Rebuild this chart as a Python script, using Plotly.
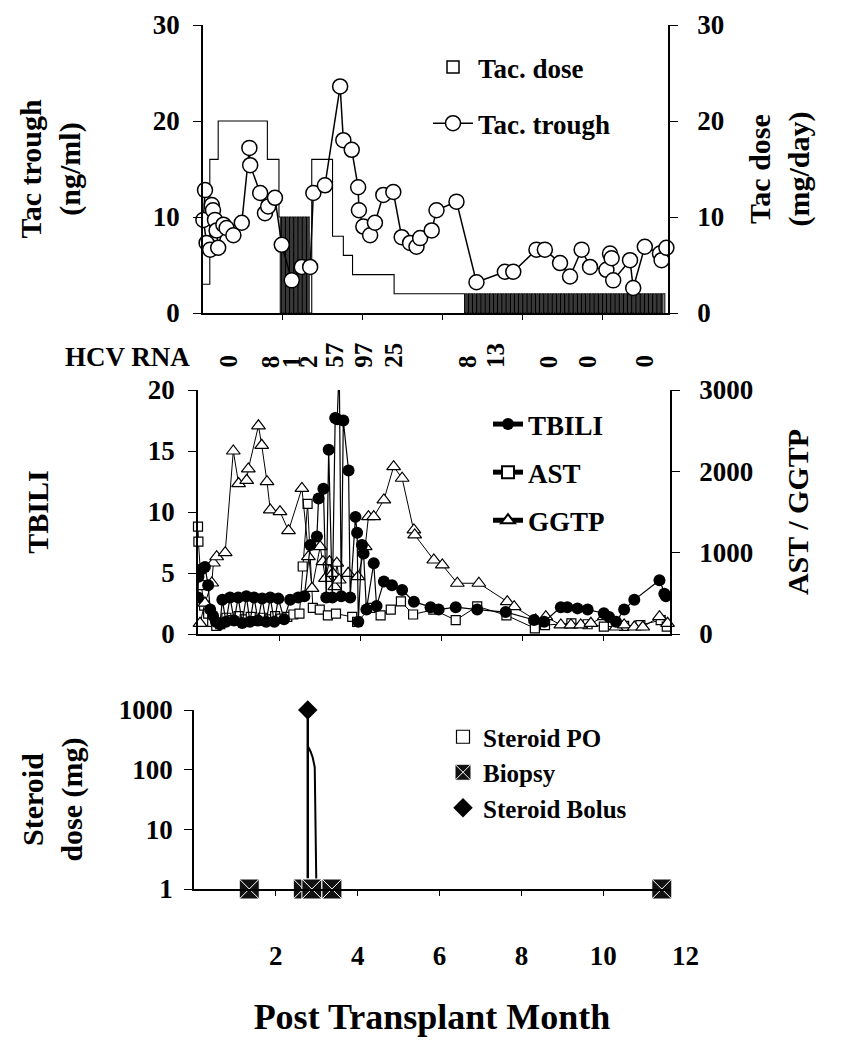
import plotly.graph_objects as go

# ---------------- data ----------------
# Top panel: tacrolimus trough (ng/ml) by post-transplant month
trough_month = [0.05, 0.01, 0.09, 0.18, 0.22, 0.25, 0.30, 0.34, 0.38, 0.51, 0.59, 0.76, 0.97, 1.16, 1.18,
                1.43, 1.55, 1.63, 1.80, 1.97, 2.22, 2.47, 2.68, 2.76, 3.05, 3.43, 3.51, 3.72, 3.88, 3.90,
                4.01, 4.18, 4.30, 4.51, 4.76, 4.97, 5.18, 5.34, 5.43, 5.72, 5.84, 6.34, 6.84, 7.55, 7.76,
                8.34, 8.55, 8.93, 9.18, 9.47, 9.68, 10.09, 10.18, 10.22, 10.26, 10.68, 10.76, 11.05, 11.43,
                11.47, 11.59]
trough_ng = [12.8, 9.7, 7.3, 6.6, 11.25, 10.7, 9.7, 8.6, 6.8, 9.2, 8.85, 8.1, 9.4, 17.2, 15.4,
             12.5, 10.4, 11.1, 12.0, 7.1, 3.4, 4.8, 4.8, 12.5, 13.3, 23.6, 18.0, 17.0, 13.1, 10.7,
             9.0, 8.1, 9.4, 12.3, 12.6, 7.9, 7.3, 6.9, 7.8, 8.6, 10.7, 11.6, 3.2, 4.3, 4.3,
             6.6, 6.6, 5.2, 3.8, 6.6, 4.8, 4.5, 6.2, 5.7, 3.4, 5.5, 2.6, 6.9, 6.2,
             5.5, 6.8]

# Tacrolimus dose schedule (mg/day): segments, some given on alternate days
dose_seg_start = [0.00, 0.17, 0.38, 1.61, 1.90, 2.72, 3.24, 3.51, 3.74, 4.78, 6.51]
dose_seg_end = [0.17, 0.38, 1.61, 1.90, 2.70, 3.24, 3.51, 3.74, 4.78, 6.51, 11.55]
dose_seg_mg = [3, 16, 20, 16, 10, 16, 8, 6, 4, 2, 2]
dose_seg_alternate_day = [False, False, False, False, True, False, False, False, False, False, True]

# HCV RNA values shown above the middle panel
hcv_month = [0.74, 1.79, 2.31, 2.72, 3.36, 4.07, 4.81, 6.64, 7.33, 8.64, 9.60, 10.99]
hcv_label = ["0", "8", "1", "2", "57", "97", "25", "8", "13", "0", "0", "0"]

# Middle panel: total bilirubin (left axis)
tbili_month = [0.00, 0.01, 0.09, 0.17, 0.25, 0.30, 0.37, 0.44, 0.54,
               0.60, 0.69, 0.79, 0.89, 0.99, 1.09, 1.19, 1.28, 1.38, 1.48, 1.58, 1.68, 1.78, 1.88, 1.98,
               2.12, 2.27, 2.47, 2.62,
               2.77, 2.93, 2.97, 3.09, 3.16, 3.22, 3.31, 3.38, 3.43, 3.48, 3.53, 3.58, 3.71, 3.75, 3.88,
               3.92, 3.95, 4.04, 4.08, 4.15, 4.33, 4.40, 4.58, 4.78, 5.03, 5.32,
               5.73, 5.93, 6.35, 6.88, 7.58, 8.28, 8.53, 8.94, 9.10, 9.35, 9.60, 10.00, 10.13, 10.30,
               10.50, 10.75, 11.37, 11.49, 11.53]
tbili_value = [3.0, 4.7, 5.3, 5.5, 4.0, 2.0, 1.5, 1.0, 0.8,
               2.8, 1.0, 3.0, 1.1, 3.0, 0.9, 3.1, 1.0, 3.0, 1.1, 2.9, 1.0, 3.0, 1.0, 2.9,
               1.2, 2.8, 3.0, 3.1,
               7.3, 8.0, 11.1, 11.9, 3.0, 15.1, 3.0, 17.7, 17.6, 22.0, 3.1, 17.5, 13.4, 3.0, 9.6,
               8.3, 1.0, 7.3, 6.6, 2.0, 5.8, 2.3, 4.3, 4.0, 3.6, 2.65,
               2.2, 2.0, 2.2, 2.0, 1.8, 1.15, 1.0, 2.2, 2.2, 2.1, 2.0, 1.7, 1.4, 1.0,
               2.0, 2.8, 4.4, 3.3, 3.1]

# Middle panel: AST and GGTP (right axis)
ast_month = [0.00, 0.01, 0.08, 0.15, 0.25, 0.35, 0.45, 0.55, 0.70, 0.85, 1.00, 1.15, 1.30, 1.45, 1.60,
             1.75, 1.90, 2.05, 2.20, 2.35, 2.50, 2.58, 2.70, 2.83, 3.00, 3.20, 3.40, 3.80, 3.92, 4.25,
             4.50, 4.75, 5.00, 5.30, 5.80, 6.35, 6.88, 7.60, 8.30, 8.55, 9.20, 9.60, 10.00, 10.50,
             10.90, 11.40, 11.55]
ast_value = [1320, 1135, 600, 350, 250, 150, 100, 120, 200, 170, 220, 180, 210, 160, 200,
             180, 220, 190, 210, 240, 250, 830, 1600, 320, 300, 230, 250, 210, 150, 320,
             230, 300, 400, 240, 300, 170, 340, 230, 70, 110, 130, 120, 90, 100,
             110, 170, 90]

ggtp_month = [0.05, 0.17, 0.34, 0.38, 0.46, 0.67, 0.87, 1.00, 1.20, 1.24, 1.49, 1.57, 1.70, 1.78,
              2.02, 2.23, 2.56, 2.72, 2.81, 3.01, 3.08, 3.14, 3.24, 3.32, 3.37, 3.42, 3.48, 3.70,
              3.94, 4.12, 4.20, 4.33, 4.58, 4.82, 5.03, 5.32, 5.34, 5.81, 6.02, 6.39, 6.92, 7.62,
              7.79, 8.32, 8.57, 8.94, 9.19, 9.43, 9.68, 10.01, 10.30, 10.50, 10.75, 10.96, 11.37, 11.57]
ggtp_value = [131, 380, 627, 873, 950, 1000, 2250, 1850, 1890, 2030, 2560, 2320, 1873, 1525,
              1504, 1270, 1790, 951, 562, 1074, 889, 685, 889, 746, 582, 870, 664, 746,
              705, 1074, 1443, 1443, 1648, 2058, 1915, 1279, 1218, 910, 849, 624, 624, 397,
              336, 172, 213, 111, 111, 111, 131, 213, 86, 111, 86, 86, 213, 131]

# Bottom panel: steroids (mg, log axis) and biopsies
po_month = [2.78, 2.80, 2.85, 2.90, 2.95, 2.99]
po_mg = [240, 235, 200, 160, 110, 1]
bolus_month = [2.78]
bolus_mg = [1000]
biopsy_month = [1.35, 2.67, 2.88, 3.37, 11.43]
biopsy_mg = [1, 1, 1, 1, 1]

month_ticks = [2, 4, 6, 8, 10, 12]

# ---------------- build ----------------
DAYS_PER_MONTH = 30.44
X_MAX = 11.63
dose_x, dose_y = [], []
for s, e, mg, alt in zip(dose_seg_start, dose_seg_end, dose_seg_mg, dose_seg_alternate_day):
    if alt:
        n_days = int(round((e - s) * DAYS_PER_MONTH))
        for d in range(n_days):
            dose_x.append(s + d / DAYS_PER_MONTH)
            dose_y.append(mg if d % 2 == 0 else 0)
    else:
        dose_x.append(s)
        dose_y.append(mg)
dose_x.append(dose_seg_end[-1])
dose_y.append(0)

# page geometry: the page body adds an 8px margin, so the figure is placed inside it
W, H, OFF = 842, 1050, 8
FW, FH = W - OFF, H - OFF
FONT = "Liberation Serif"
def px_x(p):
    return (p - OFF) / FW
def px_y(p):
    return 1 - (p - OFF) / FH

dom_x_top = [px_x(203), px_x(668)]
dom_x_mid = [px_x(198), px_x(670)]
dom_x_bot = [px_x(194), px_x(670)]
dom_y_top = [px_y(313), px_y(25)]
dom_y_mid = [px_y(634), px_y(390)]
dom_y_bot = [px_y(889), px_y(710)]

fig = go.Figure()

# --- top panel ---
fig.add_trace(go.Scatter(x=dose_x, y=dose_y, mode="lines", line=dict(color="black", width=1.1, shape="hv"),
                         xaxis="x", yaxis="y", showlegend=False, hoverinfo="skip"))
fig.add_trace(go.Bar(x=[None], y=[None], name="Tac. dose", xaxis="x", yaxis="y2",
                     marker=dict(color="white", line=dict(color="black", width=1.5)),
                     legend="legend", legendgroup="dose"))
fig.add_trace(go.Scatter(x=trough_month, y=trough_ng, mode="lines+markers", name="Tac. trough",
                         line=dict(color="black", width=1.5),
                         marker=dict(symbol="circle", size=15, color="white", line=dict(color="black", width=1.5)),
                         cliponaxis=False, xaxis="x", yaxis="y", legend="legend", legendgroup="trough"))

# --- middle panel (TBILI on its left axis, drawn over AST / GGTP) ---
fig.add_trace(go.Scatter(x=tbili_month, y=tbili_value, mode="lines+markers", name="TBILI",
                         line=dict(color="black", width=1.2),
                         marker=dict(symbol="circle", size=12, color="black"),
                         xaxis="x2", yaxis="y4", legend="legend2", legendgroup="tb"))
fig.add_trace(go.Scatter(x=ast_month, y=ast_value, mode="lines+markers", name="AST",
                         line=dict(color="black", width=1),
                         marker=dict(symbol="square", size=9, color="white", line=dict(color="black", width=1.2)),
                         cliponaxis=False, xaxis="x2", yaxis="y3", legend="legend2", legendgroup="ast"))
fig.add_trace(go.Scatter(x=ggtp_month, y=ggtp_value, mode="lines+markers", name="GGTP",
                         line=dict(color="black", width=1),
                         marker=dict(symbol="triangle-up", size=12, color="white", line=dict(color="black", width=1.2)),
                         cliponaxis=False, xaxis="x2", yaxis="y3", legend="legend2", legendgroup="gg"))

# --- bottom panel ---
fig.add_trace(go.Scatter(x=po_month, y=po_mg, mode="lines", line=dict(color="black", width=2),
                         xaxis="x3", yaxis="y5", showlegend=False, hoverinfo="skip"))
fig.add_trace(go.Scatter(x=[bolus_month[0], bolus_month[0]], y=[1, bolus_mg[0]], mode="lines",
                         line=dict(color="black", width=2.5), xaxis="x3", yaxis="y5",
                         showlegend=False, hoverinfo="skip"))
fig.add_trace(go.Scatter(x=[None], y=[None], mode="markers", name="Steroid PO",
                         marker=dict(symbol="square", size=13, color="white", line=dict(color="black", width=1.2)),
                         xaxis="x3", yaxis="y5", legend="legend3", legendgroup="po"))
fig.add_trace(go.Scatter(x=biopsy_month, y=biopsy_mg, mode="markers", name="Biopsy",
                         marker=dict(symbol="square-x", size=20, color="#111111", line=dict(color="white", width=1)),
                         cliponaxis=False, xaxis="x3", yaxis="y5", legend="legend3", legendgroup="bx"))
fig.add_trace(go.Scatter(x=bolus_month, y=bolus_mg, mode="markers", name="Steroid Bolus",
                         marker=dict(symbol="diamond", size=15, color="black"),
                         cliponaxis=False, xaxis="x3", yaxis="y5", legend="legend3", legendgroup="bo"))

axis_common = dict(showline=True, linecolor="black", linewidth=1.5, ticks="outside", tickcolor="black",
                   tickwidth=1.2, showgrid=False, zeroline=False, fixedrange=True, automargin=False)
xcommon = dict(axis_common, range=[0, X_MAX], tickvals=month_ticks[:-1], ticklen=5)
title_font = dict(family=FONT, size=30, color="black", weight="bold")
tick_font = dict(family=FONT, size=27, color="black", weight="bold")

fig.update_layout(
    template="none",
    width=FW, height=FH,
    margin=dict(l=0, r=0, t=0, b=0, pad=0),
    paper_bgcolor="white", plot_bgcolor="white",
    font=dict(family=FONT, size=27, color="black", weight="bold"),
    barmode="overlay",
    xaxis=dict(xcommon, domain=dom_x_top, anchor="y", showticklabels=False),
    xaxis2=dict(xcommon, domain=dom_x_mid, anchor="y3", showticklabels=False),
    xaxis3=dict(xcommon, domain=dom_x_bot, anchor="y5", showticklabels=True,
                ticktext=[str(t) for t in month_ticks[:-1]], tickfont=tick_font,
                ticklabelstandoff=37,
                title=dict(text="Post Transplant Month", font=dict(family=FONT, size=36, color="black", weight="bold"),
                           standoff=34)),
    yaxis=dict(axis_common, domain=dom_y_top, anchor="x", range=[0, 30], tickvals=[0, 10, 20, 30], ticklen=8,
               tickfont=tick_font, ticklabelstandoff=8,
               title=dict(text="Tac trough<br>(ng/ml)", font=title_font, standoff=63)),
    yaxis2=dict(axis_common, overlaying="y", side="right", anchor="x", range=[0, 30], tickvals=[0, 10, 20, 30],
                ticklen=8, tickfont=tick_font, ticklabelstandoff=14,
                title=dict(text="Tac dose<br>(mg/day)", font=title_font, standoff=26)),
    yaxis3=dict(axis_common, domain=dom_y_mid, side="right", anchor="x2", range=[0, 3000],
                tickvals=[0, 1000, 2000, 3000], ticklen=8, tickfont=tick_font, ticklabelstandoff=14,
                title=dict(text="AST / GGTP", font=title_font, standoff=35)),
    yaxis4=dict(axis_common, overlaying="y3", side="left", anchor="x2", range=[0, 20],
                tickvals=[0, 5, 10, 15, 20], ticklen=8, tickfont=tick_font, ticklabelstandoff=8,
                title=dict(text="TBILI", font=title_font, standoff=90)),
    yaxis5=dict(axis_common, domain=dom_y_bot, anchor="x3", type="log", range=[0, 3],
                tickvals=[1, 10, 100, 1000], ticktext=["1", "10", "100", "1000"], ticklen=8,
                tickfont=tick_font, ticklabelstandoff=6,
                title=dict(text="Steroid<br>dose (mg)", font=title_font, standoff=27)),
    legend=dict(x=px_x(428), y=px_y(43), xanchor="left", yanchor="top", bgcolor="rgba(0,0,0,0)",
                font=dict(family=FONT, size=27, color="black", weight="bold"),
                tracegroupgap=18, itemsizing="trace", itemwidth=40),
    legend2=dict(x=px_x(488), y=px_y(400), xanchor="left", yanchor="top", bgcolor="rgba(0,0,0,0)",
                 font=dict(family=FONT, size=27, color="black", weight="bold"),
                 tracegroupgap=10, itemsizing="constant", itemwidth=30),
    legend3=dict(x=px_x(443), y=px_y(714), xanchor="left", yanchor="top", bgcolor="rgba(0,0,0,0)",
                 font=dict(family=FONT, size=25, color="black", weight="bold"),
                 tracegroupgap=0, itemsizing="trace", itemwidth=30),
)

# HCV RNA row
fig.add_annotation(text="HCV RNA", x=px_x(192), y=px_y(357), xref="paper", yref="paper",
                   xanchor="right", yanchor="middle", showarrow=False,
                   font=dict(family=FONT, size=27, color="black", weight="bold"))
for m, lab in zip(hcv_month, hcv_label):
    fig.add_annotation(text=lab, x=m, y=px_y(370), xref="x2", yref="paper", textangle=-90,
                       xanchor="center", yanchor="bottom", showarrow=False,
                       font=dict(family=FONT, size=25, color="black", weight="bold"))

# last month tick label (beyond the plotted range, as in the reference)
frac12 = (month_ticks[-1] - 0) / (X_MAX - 0)
fig.add_annotation(text=str(month_ticks[-1]), xref="paper", yref="paper",
                   x=dom_x_bot[0] + frac12 * (dom_x_bot[1] - dom_x_bot[0]), y=px_y(956),
                   xanchor="center", yanchor="middle", showarrow=False, font=tick_font)

fig.write_html("out.html")
